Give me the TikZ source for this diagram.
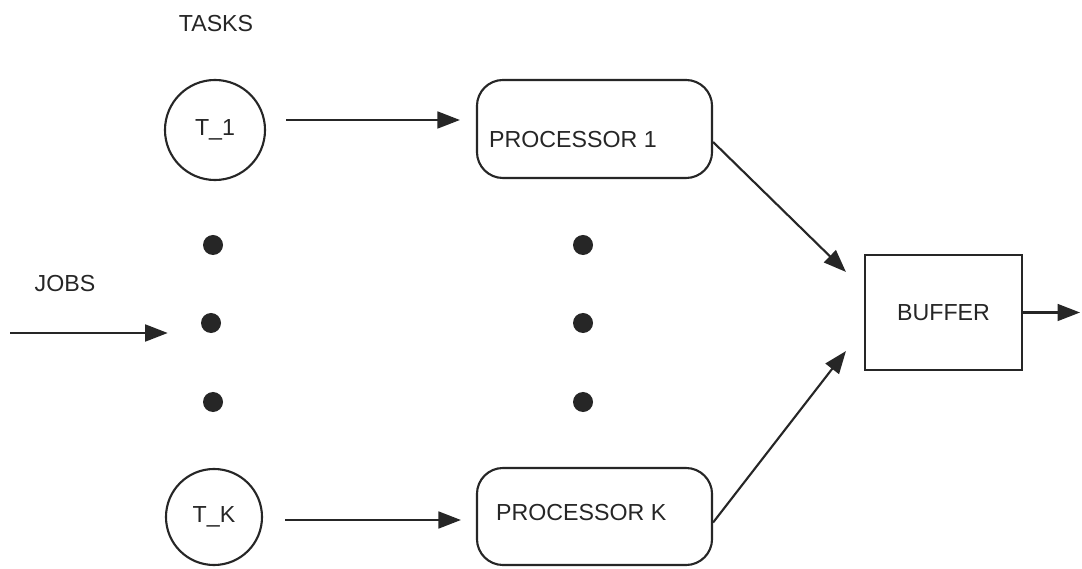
\documentclass[tikz,border=0pt]{standalone}
\usepackage{fontspec}
\setmainfont{Liberation Sans}
\usetikzlibrary{arrows.meta}
\begin{document}
\begin{tikzpicture}[x=0.025cm,y=-0.025cm,
  lbl/.style={font=\fontsize{16.5}{19}\selectfont,text=black!85},
  task/.style={circle,draw=black!85,line width=1.5pt,inner sep=0pt,lbl},
  proc/.style={rectangle,rounded corners=0.65cm,draw=black!85,line width=1.5pt,minimum width=5.875cm},
  buf/.style={rectangle,draw=black!85,line width=1.5pt,minimum width=3.925cm,minimum height=2.875cm,lbl},
  dotnode/.style={circle,fill=black!85,inner sep=0pt,minimum size=0.5cm},
  arr/.style={draw=black!85,line width=1.5pt,-{Triangle[length=16pt,width=12pt]}}]
\useasboundingbox[fill=white] (0,0) rectangle (1082,569);

\node[lbl] (tasks) at (216,24) {TASKS};
\node[lbl] (jobs) at (65,284) {JOBS};
\coordinate (jobsstart) at (10,333);

\node[task,minimum size=2.5cm] (T1) at (215,130) {T\_1};
\node[task,minimum size=2.4cm] (TK) at (214,517) {T\_K};

\node[proc,minimum height=2.45cm,
  label={[lbl,anchor=west,inner sep=0pt,shift={(13,11)}]west:PROCESSOR 1}] (P1) at (594.5,129) {};
\node[proc,minimum height=2.425cm,
  label={[lbl,anchor=west,inner sep=0pt,shift={(20,-4)}]west:PROCESSOR K}] (PK) at (594.5,516.5) {};

\node[buf] (B) at (943.5,312.5) {BUFFER};
\coordinate (out) at (1080,312);

\node[dotnode] (l1) at (213,245) {};
\node[dotnode] (l2) at (211,323) {};
\node[dotnode] (l3) at (213,402) {};
\node[dotnode] (r1) at (583,245) {};
\node[dotnode] (r2) at (583,323) {};
\node[dotnode] (r3) at (583,402) {};

\draw[arr] (jobsstart) -- ([xshift=-0.825cm]l2.west |- jobsstart);
\draw[arr] ([shift={(20,-10)}]T1.east) coordinate (a1) -- ([xshift=-0.4cm]P1.west |- a1);
\draw[arr] ([shift={(22,3)}]TK.east) coordinate (ak) -- ([xshift=-0.375cm]PK.west |- ak);
\draw[arr] ([shift={(0,13)}]P1.east) -- ([shift={(-18,18)}]B.north west);
\draw[arr] ([shift={(0,6)}]PK.east) -- ([shift={(-18,-20)}]B.south west);
\draw[arr] (B.east) -- (out |- B.east);
\end{tikzpicture}
\end{document}
